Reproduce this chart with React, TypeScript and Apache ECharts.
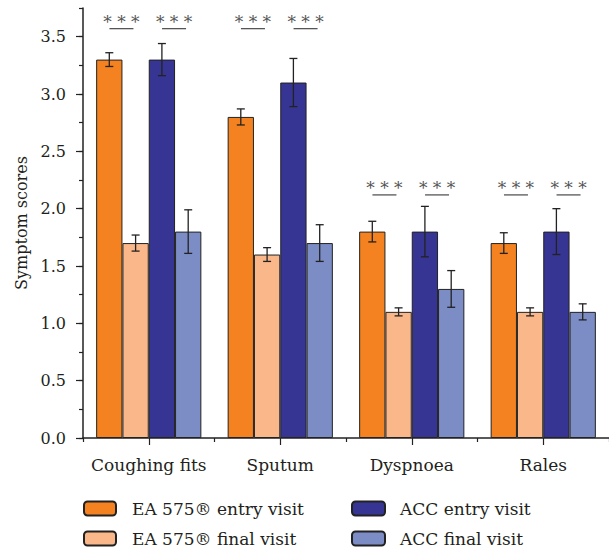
import React, { useEffect, useRef } from "react";
import * as echarts from "echarts";

const categories = ["Coughing fits", "Sputum", "Dyspnoea", "Rales"];
const seriesNames = [
  "EA 575® entry visit",
  "EA 575® final visit",
  "ACC entry visit",
  "ACC final visit",
];
const eaEntry = [3.3, 2.8, 1.8, 1.7];
const eaEntryErr = [0.06, 0.07, 0.09, 0.09];
const eaFinal = [1.7, 1.6, 1.1, 1.1];
const eaFinalErr = [0.07, 0.06, 0.035, 0.035];
const accEntry = [3.3, 3.1, 1.8, 1.8];
const accEntryErr = [0.14, 0.21, 0.22, 0.2];
const accFinal = [1.8, 1.7, 1.3, 1.1];
const accFinalErr = [0.19, 0.16, 0.16, 0.07];
const sigLevel = [3.57, 3.57, 2.12, 2.12];
const sigLabel = "* * *";
const yTicks = [0, 0.5, 1, 1.5, 2, 2.5, 3, 3.5];

const colors = ["#F58220", "#F9B78A", "#363594", "#7C8DC6"];
const FONT = "DejaVu Serif";
const TXT = "#231f20";

export default function App() {
  const ref = useRef<HTMLDivElement>(null);
  useEffect(() => {
    if (!ref.current) return;
    const chart = echarts.init(ref.current, undefined, { renderer: "svg" });
    const values = [eaEntry, eaFinal, accEntry, accFinal];
    const errs = [eaEntryErr, eaFinalErr, accEntryErr, accFinalErr];

    const errData: number[][] = [];
    values.forEach((vals, s) => {
      vals.forEach((v, c) => {
        errData.push([c, s, v - errs[s][c], v + errs[s][c]]);
      });
    });
    const sigData: number[][] = [];
    sigLevel.forEach((lv, c) => {
      sigData.push([c, 0, lv]);
      sigData.push([c, 1, lv]);
    });

    const barSeries = values.map((vals, i) => ({
      name: seriesNames[i],
      type: "bar",
      data: vals,
      barGap: "0%",
      barCategoryGap: "20%",
      itemStyle: { color: colors[i], borderColor: "#222", borderWidth: 1 },
      xAxisIndex: 0,
      yAxisIndex: 0,
    }));

    const tickStyle = { color: "#222", width: 1.2 };

    const option: any = {
      animation: false,
      grid: { left: 83, top: 8, width: 536, height: 430 },
      xAxis: [
        {
          type: "category",
          data: categories,
          position: "bottom",
          axisLine: { show: true, onZero: false, lineStyle: { color: "#222", width: 1.5 } },
          axisTick: { show: true, interval: 0, alignWithLabel: true, length: 7, lineStyle: tickStyle },
          axisLabel: { show: true, interval: 0, fontFamily: FONT, fontSize: 17, color: TXT, margin: 18 },
        },
        {
          type: "category",
          data: categories,
          position: "bottom",
          axisLine: { show: false, onZero: false },
          axisTick: { show: true, interval: 0, alignWithLabel: false, length: 4, lineStyle: tickStyle },
          axisLabel: { show: false },
        },
      ],
      yAxis: [
        {
          type: "value",
          position: "left",
          min: 0,
          max: 3.75,
          interval: 0.5,
          splitLine: { show: false },
          axisLine: { show: true, onZero: false, lineStyle: { color: "#222", width: 1.5 } },
          axisTick: { show: true, length: 7, customValues: yTicks, lineStyle: tickStyle },
          axisLabel: {
            customValues: yTicks,
            fontFamily: FONT,
            fontSize: 16,
            color: TXT,
            margin: 17,
            formatter: (v: number) => (Math.abs(v * 2 - Math.round(v * 2)) < 1e-6 && v <= 3.5 ? v.toFixed(1) : ""),
          },
          name: "Symptom scores",
          nameLocation: "middle",
          nameRotate: 90,
          nameGap: 53,
          nameTextStyle: { fontFamily: FONT, fontSize: 16, color: TXT },
        },
        {
          type: "value",
          position: "left",
          min: 0,
          max: 3.75,
          interval: 0.25,
          splitLine: { show: false },
          axisLine: { show: false, onZero: false },
          axisTick: { show: true, length: 4, lineStyle: tickStyle },
          axisLabel: { show: false },
        },
      ],
      legend: [
        {
          orient: "vertical",
          left: 83,
          top: 500,
          padding: 0,
          itemWidth: 32,
          itemHeight: 14,
          itemGap: 13,
          data: [seriesNames[0], seriesNames[1]],
          textStyle: { fontFamily: FONT, fontSize: 17, color: TXT, lineHeight: 17, padding: [0, 0, 0, 11] },
        },
        {
          orient: "vertical",
          left: 351,
          top: 500,
          padding: 0,
          itemWidth: 33,
          itemHeight: 14,
          itemGap: 13,
          data: [seriesNames[2], seriesNames[3]],
          textStyle: { fontFamily: FONT, fontSize: 17, color: TXT, lineHeight: 17, padding: [0, 0, 0, 10] },
        },
      ],
      series: [
        ...barSeries,
        {
          type: "custom",
          name: "errors",
          xAxisIndex: 0,
          yAxisIndex: 0,
          data: errData,
          encode: { x: 0, y: [2, 3] },
          z: 5,
          renderItem: (params: any, api: any) => {
            const c = api.value(0);
            const s = api.value(1);
            const lo = api.value(2);
            const hi = api.value(3);
            const band = api.size([1, 0])[0];
            const off = (s - 1.5) * band * 0.2;
            const pHi = api.coord([c, hi]);
            const pLo = api.coord([c, lo]);
            const x = pHi[0] + off;
            const hw = 4;
            const style = { stroke: "#222", lineWidth: 1.3 };
            return {
              type: "group",
              children: [
                { type: "line", shape: { x1: x, y1: pHi[1], x2: x, y2: pLo[1] }, style },
                { type: "line", shape: { x1: x - hw, y1: pHi[1], x2: x + hw, y2: pHi[1] }, style },
                { type: "line", shape: { x1: x - hw, y1: pLo[1], x2: x + hw, y2: pLo[1] }, style },
              ],
            };
          },
        },
        {
          type: "custom",
          name: "significance",
          xAxisIndex: 0,
          yAxisIndex: 0,
          data: sigData,
          encode: { x: 0, y: 2 },
          z: 5,
          renderItem: (params: any, api: any) => {
            const c = api.value(0);
            const side = api.value(1);
            const lv = api.value(2);
            const band = api.size([1, 0])[0];
            const off = (side === 0 ? -0.2 : 0.2) * band;
            const p = api.coord([c, lv]);
            const x = p[0] + off - 1;
            const y = p[1];
            return {
              type: "group",
              children: [
                { type: "line", shape: { x1: x - 12, y1: y, x2: x + 12, y2: y }, style: { stroke: "#555", lineWidth: 1.3 } },
                {
                  type: "text",
                  x: x,
                  y: y + 2,
                  style: {
                    text: sigLabel,
                    fontFamily: FONT,
                    fontSize: 17,
                    fill: "#555",
                    align: "center",
                    verticalAlign: "bottom",
                  },
                },
              ],
            };
          },
        },
      ],
    };
    chart.setOption(option);
    return () => chart.dispose();
  }, []);
  return (
    <div
      ref={ref}
      style={{ position: "absolute", left: 0, top: 0, width: 609, height: 554, background: "#fff" }}
    />
  );
}
